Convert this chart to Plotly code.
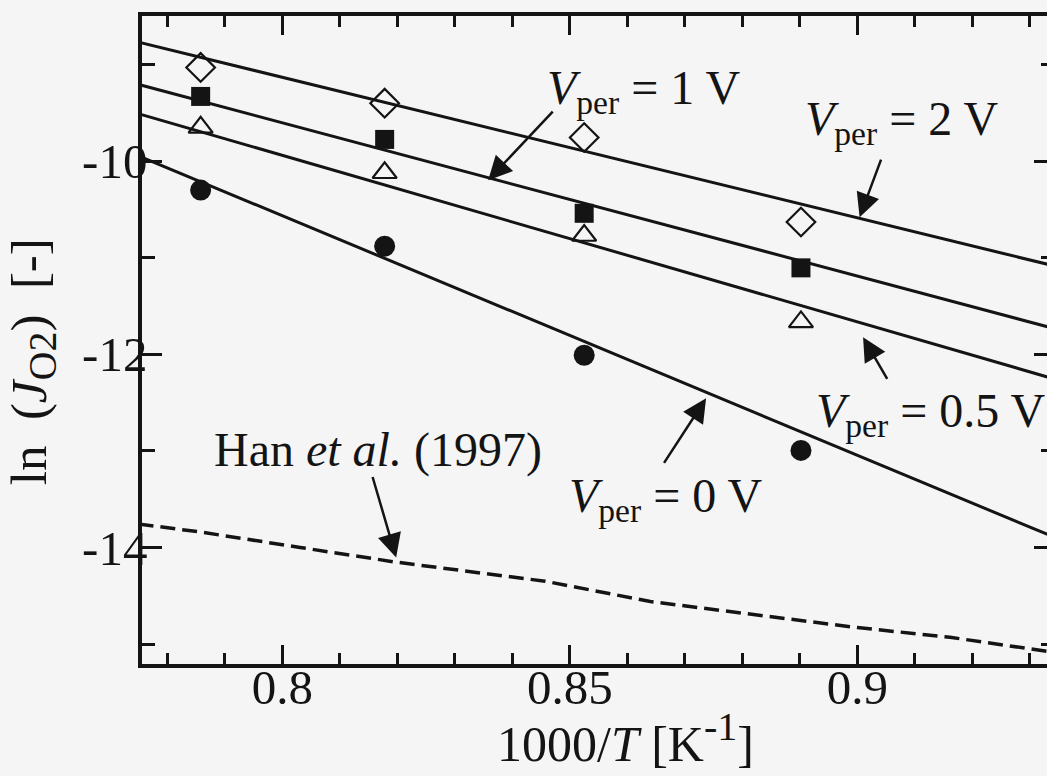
import plotly.graph_objects as go

# Inverse temperature of the measurements, 1000/T [1/K]
inv_T = [0.7858, 0.8178, 0.8525, 0.8902]

# Measured oxygen permeation flux, ln(J_O2), for each applied potential
lnJ_2V = [-9.03, -9.40, -9.755, -10.63]
lnJ_1V = [-9.33, -9.775, -10.54, -11.105]
lnJ_05V = [-9.65, -10.12, -10.77, -11.665]
lnJ_0V = [-10.30, -10.88, -12.01, -12.995]

# Model lines (end points across the plotted temperature window)
fit_x = [0.775, 0.935]
fit_2V = [-8.768, -11.096]
fit_1V = [-9.206, -11.745]
fit_05V = [-9.509, -12.268]
fit_0V = [-9.945, -13.913]

# Literature curve, Han et al. (1997)
han_x = [0.7750, 0.7857, 0.8031, 0.8195, 0.8457, 0.8640, 0.8813, 0.9000, 0.9161, 0.9278, 0.9335]
han_y = [-13.757, -13.84, -14.00, -14.15, -14.35, -14.56, -14.69, -14.83, -14.93, -15.03, -15.08]

# Axis ticks
x_major = [0.8, 0.85, 0.9]
x_major_text = ["0.8", "0.85", "0.9"]
x_minor = [0.78, 0.79, 0.81, 0.82, 0.83, 0.84, 0.86, 0.87, 0.88, 0.89, 0.91, 0.92, 0.93]
y_major = [-14, -12, -10]
y_major_text = ["-14", "-12", "-10"]
y_minor = [-15, -13, -11, -9]

INK = "#141414"
BG = "#f5f5f5"
FONT = "Liberation Serif, Times New Roman, serif"

fig = go.Figure()

for fy in (fit_2V, fit_1V, fit_05V, fit_0V):
    fig.add_trace(go.Scatter(x=fit_x, y=fy, mode="lines",
                             line=dict(color=INK, width=3), hoverinfo="skip"))

fig.add_trace(go.Scatter(x=han_x, y=han_y, mode="lines", yaxis="y2",
                         line=dict(color=INK, width=3.5, dash="15px,7px"),
                         hoverinfo="skip"))

fig.add_trace(go.Scatter(x=inv_T, y=lnJ_2V, mode="markers",
                         marker=dict(symbol="diamond-open", size=22, color=INK,
                                     line=dict(width=2.2, color=INK))))
fig.add_trace(go.Scatter(x=inv_T, y=lnJ_1V, mode="markers",
                         marker=dict(symbol="square", size=19, color=INK,
                                     line=dict(width=0))))
fig.add_trace(go.Scatter(x=inv_T, y=lnJ_05V, mode="markers",
                         marker=dict(symbol="triangle-up-open", size=21, color=INK,
                                     line=dict(width=2.2, color=INK))))
fig.add_trace(go.Scatter(x=inv_T, y=lnJ_0V, mode="markers",
                         marker=dict(symbol="circle", size=21, color=INK,
                                     line=dict(width=0))))

x_range = [0.7756, 0.93299]
y_range = [-15.207, -8.497]

tick_common = dict(ticks="inside", tickwidth=3, tickcolor=INK, showgrid=False,
                   zeroline=False)

fig.update_layout(
    width=1047, height=776,
    margin=dict(l=142, r=0, t=16, b=112),
    paper_bgcolor=BG, plot_bgcolor=BG,
    showlegend=False,
    font=dict(family=FONT, size=48, color=INK),
    xaxis=dict(
        range=x_range, showline=True, linewidth=3.5, linecolor=INK, mirror="ticks",
        tickmode="array", tickvals=x_major, ticktext=x_major_text, ticklen=19,
        minor=dict(tickmode="array", tickvals=x_minor, ticks="inside", ticklen=11,
                   tickwidth=3, tickcolor=INK),
        tickfont=dict(size=49), ticklabelstandoff=-23,
        **tick_common,
    ),
    yaxis=dict(
        range=y_range, showline=True, linewidth=3.5, linecolor=INK, mirror=False,
        tickmode="array", tickvals=y_major, ticktext=y_major_text, ticklen=20,
        minor=dict(tickmode="array", tickvals=y_minor, ticks="inside", ticklen=13,
                   tickwidth=3, tickcolor=INK),
        tickfont=dict(size=49), ticklabelstandoff=-19,
        **tick_common,
    ),
    yaxis2=dict(
        overlaying="y", side="right", matches="y", range=y_range, showline=False,
        tickmode="array", tickvals=y_major, ticklen=13, showticklabels=False,
        minor=dict(tickmode="array", tickvals=y_minor, ticks="inside", ticklen=6,
                   tickwidth=3, tickcolor=INK),
        **tick_common,
    ),
)

# X-axis title
fig.add_annotation(
    text="1000/<i>T</i> [K<sup><span style='font-size:40px'>-1</span></sup>]",
    xref="paper", yref="paper", x=0.5348, y=-0.114,
    xanchor="center", yanchor="middle", showarrow=False,
    font=dict(size=50, family=FONT, color=INK),
)

# Y-axis title
fig.add_annotation(
    text="ln\u2002(<i>J</i><sub><span style='font-size:40px'>O2</span></sub>)\u2002[-]",
    textangle=-90,
    xref="paper", yref="paper", x=0, y=0.4656, xshift=-109,
    xanchor="center", yanchor="middle", showarrow=False,
    font=dict(size=51, family=FONT, color=INK),
)

# Curve labels
labels = [
    ("<i>V</i><sub>per</sub> = 1 V", 0.8456, -9.27),
    ("<i>V</i><sub>per</sub> = 2 V", 0.8905, -9.59),
    ("<i>V</i><sub>per</sub> = 0.5 V", 0.8924, -12.62),
    ("<i>V</i><sub>per</sub> = 0 V", 0.8495, -13.50),
    ("Han <i>et al.</i> (1997)", 0.7878, -12.99),
]
for txt, lx, ly in labels:
    fig.add_annotation(text=txt, x=lx, y=ly, xref="x", yref="y",
                       xanchor="left", yanchor="middle", showarrow=False,
                       font=dict(size=48, family=FONT, color=INK))

# Pointer arrows: tip on the curve, tail offset in pixels
arrows = [
    (0.8358, -10.197, 66, -70),
    (0.9004, -10.580, 22, -59),
    (0.9010, -11.824, 25, 43),
    (0.8737, -12.456, -43, 66),
    (0.8198, -14.104, -24, -82),
]
for tx, ty, dx, dy in arrows:
    fig.add_annotation(text="", x=tx, y=ty, xref="x", yref="y",
                       ax=dx, ay=dy, showarrow=True, arrowhead=2,
                       arrowsize=1.9, arrowwidth=2.5, arrowcolor=INK, standoff=0)

fig.write_html("out.html")
